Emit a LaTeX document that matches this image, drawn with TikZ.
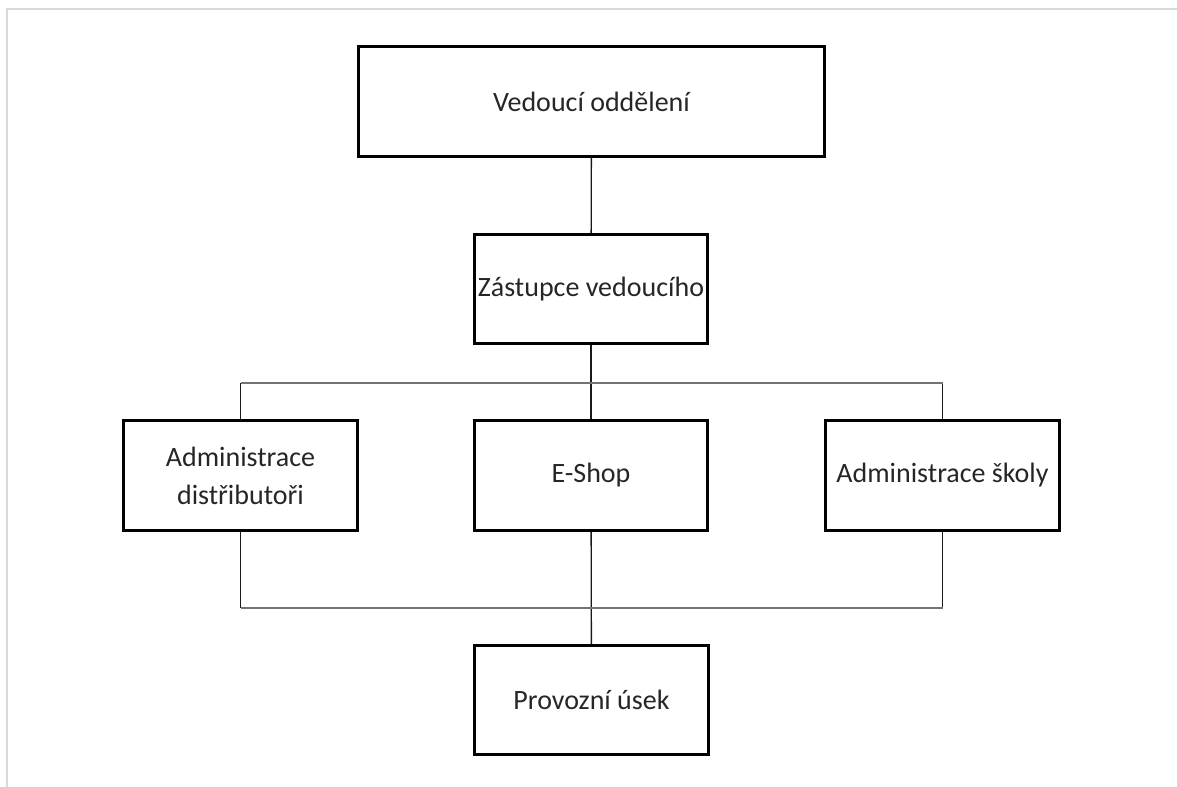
\documentclass[tikz,border=0pt]{standalone}
\usepackage{fontspec}
\setmainfont{Carlito}
\usetikzlibrary{positioning}

\tikzset{
  unit/.style={draw=black, line width=2.2pt, minimum width=175pt, minimum height=82pt,
    inner sep=2pt, align=center, text=black!85,
    font=\fontsize{21}{28.5}\selectfont},
  lead/.style={unit, minimum width=350pt},
  link/.style={draw=black!90, line width=1pt},
  bus/.style={draw=black!55, line width=1.4pt},
  pageedge/.style={draw=black!15, line width=1.5pt}
}

\begin{document}
\begin{tikzpicture}[x=0.75pt, y=-0.75pt]

    \useasboundingbox (0,0) rectangle (1177,787);
    \draw [pageedge] (7,787) -- (7,9) -- (1177,9);

    \node [lead] (head) at (591.5, 101.5) {Vedoucí oddělení};
    \node [unit] (deputy) at (591, 289) {Zástupce vedoucího};
    \node [unit] (distrib) at (240.5, 475.5) {Administrace\\distřibutoři};
    \node [unit] (eshop) at (591, 475.5) {E-Shop};
    \node [unit] (school) at (942.5, 475.5) {Administrace školy};
    \node [unit] (ops) at (591.5, 700) {Provozní úsek};

    \coordinate (topbus) at (591, 383);
    \coordinate (lowbus) at (591, 608);

 \path[link]
      (head) edge (deputy)
      (deputy) edge (eshop)
      (eshop) edge (ops)
      (distrib.north) edge (distrib.north |- topbus)
      (school.north) edge (school.north |- topbus)
      (distrib.south) edge (distrib.south |- lowbus)
      (school.south) edge (school.south |- lowbus);
 \path[bus]
      (distrib.north |- topbus) edge (school.north |- topbus)
      (distrib.south |- lowbus) edge (school.south |- lowbus);
                        \end{tikzpicture}
\end{document}
